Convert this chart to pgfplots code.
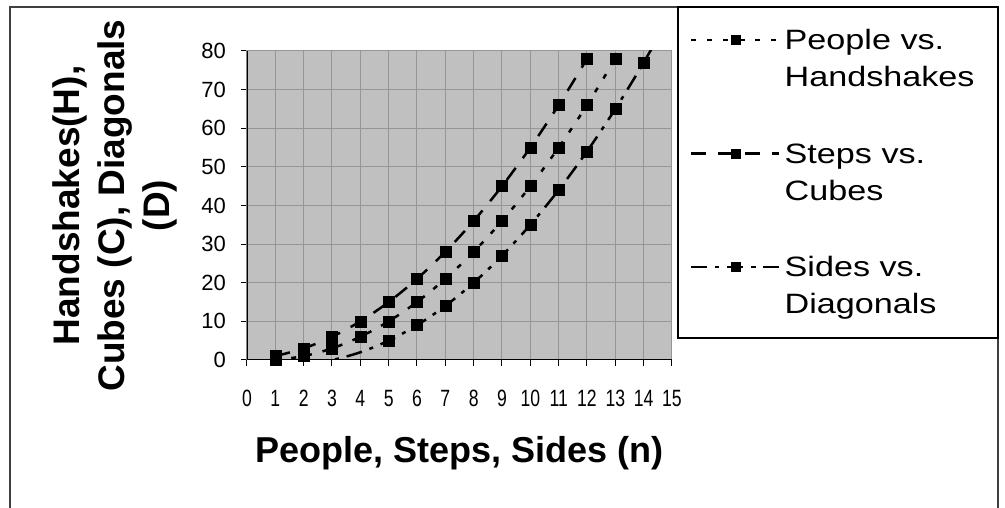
\documentclass[border=0pt]{standalone}
\usepackage{pgfplots}
\pgfplotsset{compat=1.18}
\usepackage{graphicx}
\usepackage{fontspec}
\setmainfont{Liberation Sans}
\newfontfamily\legfont[FakeStretch=1.22]{Liberation Sans}

\definecolor{plotbg}{RGB}{192,192,192}
\definecolor{gridc}{RGB}{150,150,150}
\definecolor{framec}{RGB}{64,64,64}

\begin{document}
\begin{tikzpicture}
\useasboundingbox (-247pt,-148pt) rectangle (758pt,360pt);
\begin{axis}[
  at={(0pt,0pt)}, anchor=south west,
  scale only axis, width=425pt, height=309pt,
  xmin=0, xmax=15, ymin=0, ymax=80,
  xtick={0,1,...,15}, ytick={0,10,...,80},
  axis background/.style={fill=plotbg},
  axis line style={draw=gridc, line width=1pt},
  grid=major, grid style={gridc, line width=1pt},
  tick align=outside, major tick length=6pt,
  tick style={black, line width=1pt},
  xtick pos=bottom, ytick pos=left,
  /pgf/number format/assume math mode=true,
  tick label style={font=\fontsize{22}{26}\selectfont, inner sep=0pt},
  xticklabel={\scalebox{0.8}[1.07]{\pgfmathprintnumber{\tick}}},
  xticklabel style={yshift=-24pt},
  yticklabel style={xshift=-15pt},
  xlabel={People, Steps, Sides (n)},
  xlabel style={font=\bfseries\fontsize{36}{40}\selectfont, at={(axis description cs:0.5,-0.333)}, anchor=base},
  ylabel={Handshakes(H),\\Cubes (C), Diagonals\\(D)},
  ylabel style={font=\bfseries\fontsize{37}{45}\selectfont, align=center, at={(axis description cs:-0.311,0.5)}, anchor=center},
  legend style={at={(443pt,342pt)}, anchor=north west, draw=none, fill=none,
    inner sep=0pt, font=\legfont\fontsize{28}{37}\selectfont,
    cells={anchor=base west, inner sep=0pt},
    /tikz/column sep=2pt, /tikz/row sep=82pt},
  legend image code/.code={
    \draw[#1, mark indices={2}, mark size=4.5pt] plot coordinates {(0pt,10pt) (44pt,10pt) (88pt,10pt)};
  },
]
\addplot[black, line width=2.5pt, smooth, mark=square*, mark size=5.5pt,
  mark options={solid, fill=black, line width=0.5pt},
  dash pattern=on 5pt off 11pt, mark indices={1,...,13}] coordinates {
  (1,0) (2,1) (3,3) (4,6) (5,10) (6,15) (7,21) (8,28) (9,36) (10,45) (11,55) (12,66) (13,78)
};
\addlegendentry{\parbox[t]{210pt}{\strut People vs.\\Handshakes\strut}}
\addplot[black, line width=2.5pt, smooth, mark=square*, mark size=5.5pt,
  mark options={solid, fill=black, line width=0.5pt},
  dash pattern=on 15pt off 12pt, mark indices={1,...,12}] coordinates {
  (1,1) (2,3) (3,6) (4,10) (5,15) (6,21) (7,28) (8,36) (9,45) (10,55) (11,66) (12,78) (13,91)
};
\addlegendentry{\parbox[t]{210pt}{\strut Steps vs.\\Cubes\strut}}
\addplot[black, line width=2.5pt, smooth, mark=square*, mark size=5.5pt,
  mark options={solid, fill=black, line width=0.5pt},
  dash pattern=on 16pt off 8pt on 4pt off 8pt, mark indices={3,...,14}] coordinates {
  (1,-1) (2,-1) (3,0) (4,2) (5,5) (6,9) (7,14) (8,20) (9,27) (10,35) (11,44) (12,54) (13,65) (14,77) (15,90)
};
\addlegendentry{\parbox[t]{210pt}{\strut Sides vs.\\Diagonals\strut}}
\draw[black, line width=1.5pt] (axis description cs:0,1) -- (axis description cs:0,0) -- (axis description cs:1,0);
\end{axis}
\draw[framec, line width=2pt] (-237pt,-160pt) -- (-237pt,353pt) -- (751pt,353pt) -- (751pt,-160pt);
\draw[black, line width=1.5pt] (431pt,353pt) rectangle (751pt,22pt);
\end{tikzpicture}
\end{document}
